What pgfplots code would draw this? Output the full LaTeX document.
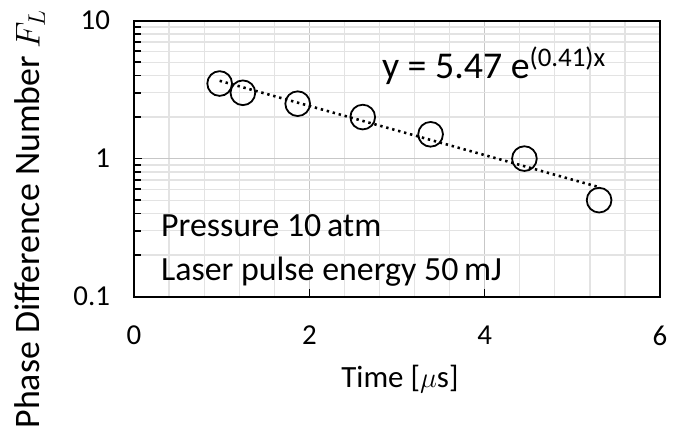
\documentclass[border=0pt]{standalone}
\usepackage{fontspec}
\setmainfont{Carlito}
\usepackage{pgfplots}
\pgfplotsset{compat=1.18}
\begin{document}
\begin{tikzpicture}
\begin{axis}[
  scale only axis,
  width=264pt, height=138.5pt,
  ymode=log,
  xmin=0, xmax=6, ymin=0.1, ymax=10,
  xtick={0,2,4,6},
  ytick={0.1,1,10},
  yticklabels={0.1,1,10},
  minor x tick num=4,
  grid=both,
  major grid style={draw=black!22, line width=0.6pt},
  minor grid style={draw=black!11, line width=0.6pt},
  axis line style={line width=1pt},
  tick align=inside,
  xtick pos=bottom, ytick pos=left,
  major tick length=4pt, minor tick length=3.5pt,
  minor x tick style={draw=none},
  tick style={black, line width=0.8pt},
  /pgf/number format/assume math mode=true,
  ticklabel style={font=\fontsize{14.5}{16}\selectfont},
  xticklabel style={anchor=center, yshift=-19.5pt},
  yticklabel style={anchor=east, xshift=-8.5pt},
  clip=false,
]
\addplot[black, line width=1.3pt, dash pattern=on 1.2pt off 1.9pt] coordinates {
  (0.977,3.664) (5.305,0.621)
};
\addplot[only marks, mark=o, mark size=6.2pt, black, line width=0.9pt] coordinates {
  (0.977,3.5) (1.242,3.0) (1.867,2.5) (2.609,2.0) (3.383,1.5) (4.453,1.0) (5.305,0.5)
};
\node[anchor=base west, inner sep=0pt, font=\fontsize{19}{21}\selectfont] at (rel axis cs:0.4707,0.789) {y = 5.47 e\textsuperscript{\fontsize{13.5}{15}\selectfont(0.41)x}};
\node[anchor=base west, inner sep=0pt, font=\fontsize{17}{19}\selectfont] at (rel axis cs:0.0508,0.217) {Pressure 10\,atm};
\node[anchor=base west, inner sep=0pt, font=\fontsize{17}{19}\selectfont] at (rel axis cs:0.0508,0.060) {Laser pulse energy 50\,mJ};
\node[anchor=base, inner sep=0pt, font=\fontsize{15.5}{17}\selectfont] at (rel axis cs:0.5056,-0.3296) {Time [$\mu$s]};
\node[anchor=center, rotate=90, inner sep=0pt, font=\fontsize{18}{20}\selectfont] at (rel axis cs:-0.198,0.2816) {Phase Difference Number $F_L$};
\path (rel axis cs:-0.2547,-0.4874) rectangle (rel axis cs:1.0208,1.0747);
\end{axis}
\end{tikzpicture}
\end{document}
